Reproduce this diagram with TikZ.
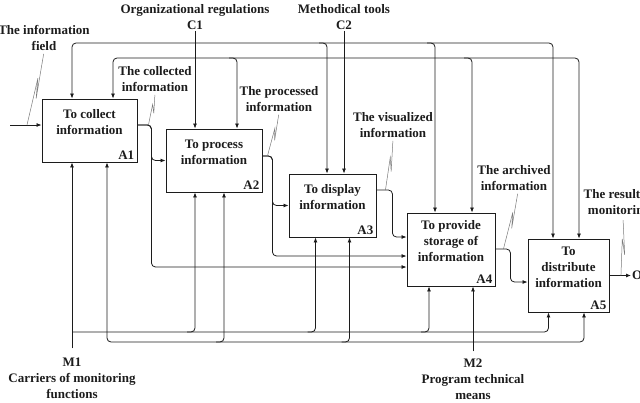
\documentclass[tikz,border=0pt]{standalone}
\usepackage{fontspec}
\setmainfont{Liberation Serif}
\usepackage{tikz}
\usetikzlibrary{arrows.meta,calc}
\definecolor{ink}{HTML}{1C1C1C}
\definecolor{zigcol}{HTML}{7A7A7A}
\newcommand{\zigline}[2]{\draw[zig] (#1) -- ($(#1)!0.64!(#2)$) -- ($(#1)!0.36!(#2)+(3,0)$) -- (#2);}

\begin{document}
\begin{tikzpicture}[
  x=1pt, y=-1pt,
  font=\fontsize{13}{16}\selectfont\bfseries,
  proc/.style={rectangle, draw=ink, line width=0.9pt, inner sep=0pt},
  ptext/.style={align=center, inner sep=0pt, text=ink},
  pid/.style={anchor=south east, inner xsep=3pt, inner ysep=3pt, text=ink},
  lbl/.style={align=center, inner sep=1pt, text=ink},
  wire/.style={line width=0.8pt, draw=ink, rounded corners=4pt},
  arrow/.style={wire, -{Latex[length=5pt,width=4pt]}},
  twoway/.style={wire, {Latex[length=5pt,width=4pt]}-{Latex[length=5pt,width=4pt]}},
  zig/.style={line width=0.5pt, draw=zigcol, shorten >=2pt}
]
\useasboundingbox (0,0) rectangle (640,402);

\node[proc, minimum width=95pt, minimum height=63pt] (a1) at (89.5,130.5) {};
\node[proc, minimum width=96pt, minimum height=63pt] (a2) at (214,160.5) {};
\node[proc, minimum width=87pt, minimum height=63pt] (a3) at (332.5,205.5) {};
\node[proc, minimum width=88pt, minimum height=73pt] (a4) at (451,249.5) {};
\node[proc, minimum width=81pt, minimum height=73pt] (a5) at (568.5,275.5) {};

\node[ptext] (a1t) at ([yshift=8pt]a1.center) {To collect\\information};
\node[ptext] (a2t) at ([yshift=8pt]a2.center) {To process\\information};
\node[ptext] (a3t) at ([yshift=8pt]a3.center) {To display\\information};
\node[ptext] (a4t) at ([yshift=8.5pt]a4.center) {To provide\\storage of\\information};
\node[ptext] (a5t) at ([yshift=8.5pt]a5.center) {To\\distribute\\information};
\node[pid] (a1id) at (a1.south east) {A1};
\node[pid] (a2id) at (a2.south east) {A2};
\node[pid] (a3id) at (a3.south east) {A3};
\node[pid] (a4id) at (a4.south east) {A4};
\node[pid] (a5id) at (a5.south east) {A5};

\node[lbl] (lfield) at (44,38) {The information\\field};
\node[lbl] (lcoll) at (155,79) {The collected\\information};
\node[lbl] (lproc) at (279,99) {The processed\\information};
\node[lbl] (lvis) at (393,125) {The visualized\\information};
\node[lbl] (larch) at (514,178) {The archived\\information};
\node[lbl] (lres) at (619,203) {The result of\\monitoring};
\node[lbl] (lc1) at (195,17) {Organizational regulations\\C1};
\node[lbl] (lc2) at (344,17) {Methodical tools\\C2};
\node[lbl] (lm1) at (72,378) {M1\\Carriers of monitoring\\functions};
\node[lbl] (lm2) at (473,379) {M2\\Program technical\\means};
\node[lbl, anchor=west] (lo1) at (631,275.5) {O1};

\coordinate (bus1) at (0,43);
\coordinate (bus2) at (0,58);
\coordinate (bus3) at (0,332);
\coordinate (bus4) at (0,342);

\coordinate (a1c1) at ([xshift=-17.5pt]a1.north);
\coordinate (a1c2) at ([xshift=23.5pt]a1.north);
\coordinate (a2c2) at ([xshift=23pt]a2.north);
\coordinate (a3c1) at ([xshift=-5.5pt]a3.north);
\coordinate (a4c1) at ([xshift=-16pt]a4.north);
\coordinate (a4c2) at ([xshift=21pt]a4.north);
\coordinate (a5c1) at ([xshift=-15.5pt]a5.north);
\coordinate (a5c2) at ([xshift=10.5pt]a5.north);

\coordinate (a1m1) at ([xshift=-17.5pt]a1.south);
\coordinate (a1m2) at ([xshift=17.5pt]a1.south);
\coordinate (a2m1) at ([xshift=-19pt]a2.south);
\coordinate (a2m2) at ([xshift=10pt]a2.south);
\coordinate (a3m1) at ([xshift=-17pt]a3.south);
\coordinate (a3m2) at ([xshift=17pt]a3.south);
\coordinate (a4m1) at ([xshift=-22pt]a4.south);
\coordinate (a4m2) at ([xshift=22pt]a4.south);
\coordinate (a5m1) at ([xshift=-20pt]a5.south);
\coordinate (a5m2) at ([xshift=15.5pt]a5.south);

\coordinate (in1) at (10,125);
\coordinate (o1) at ([yshift=5.5pt]a1.east);
\coordinate (o2) at ([yshift=4.5pt]a2.east);
\coordinate (o3) at ([yshift=15.5pt]a3.east);
\coordinate (o4) at ([yshift=0.5pt]a4.east);

\draw[arrow] (in1) -- (in1 -| a1.west);
\draw[arrow] (o1) -- ++(14,0) |- (a2.west);
\draw[arrow] (o1) -- ++(14,0) |- ([yshift=-17.5pt]a4.west);
\draw[arrow] (o2) -- ++(10,0) |- (a3.west);
\draw[arrow] (o2) -- ++(10,0) |- ([yshift=-6.5pt]a4.west);
\draw[arrow] (o3) -- ++(16,0) |- ([yshift=12.5pt]a4.west);
\draw[arrow] (o4) -- ++(15,0) |- ([yshift=-6.5pt]a5.west);
\draw[arrow] (a5.east) -- (lo1.west);

\draw[arrow] (lc1.south) -- (lc1.south |- a2.north);
\draw[arrow] (lc2.south) -- (lc2.south |- a3.north);
\draw[twoway] (a5c1) -- (a5c1 |- bus1) -- (a1c1 |- bus1) -- (a1c1);
\draw[twoway] (a5c2) -- (a5c2 |- bus2) -- (a1c2 |- bus2) -- (a1c2);
\coordinate (j31) at (a3c1 |- bus1);
\coordinate (j41) at (a4c1 |- bus1);
\coordinate (j22) at (a2c2 |- bus2);
\coordinate (j42) at (a4c2 |- bus2);
\draw[arrow] ([xshift=-8pt]j31) -| (a3c1);
\draw[arrow] ([xshift=-8pt]j41) -| (a4c1);
\draw[arrow] ([xshift=-8pt]j22) -| (a2c2);
\draw[arrow] ([xshift=-8pt]j42) -| (a4c2);

\draw[arrow] ([yshift=8pt]lm1.north -| a1m1) -- (a1m1);
\draw[arrow] (a1m1 |- bus3) -| (a5m1);
\draw[twoway] (a1m2) -- (a1m2 |- bus4) -- (a5m2 |- bus4) -- (a5m2);
\draw[arrow] ([yshift=6pt]lm2.north -| a4m2) -- (a4m2);
\coordinate (k21) at (a2m1 |- bus3);
\coordinate (k31) at (a3m1 |- bus3);
\coordinate (k41) at (a4m1 |- bus3);
\coordinate (k22) at (a2m2 |- bus4);
\coordinate (k32) at (a3m2 |- bus4);
\draw[arrow] ([xshift=-8pt]k21) -| (a2m1);
\draw[arrow] ([xshift=-8pt]k31) -| (a3m1);
\draw[arrow] ([xshift=-8pt]k41) -| (a4m1);
\draw[arrow] ([xshift=-8pt]k22) -| (a2m2);
\draw[arrow] ([xshift=-8pt]k32) -| (a3m2);

\coordinate (zfield) at ([xshift=17pt]in1);
\coordinate (zcoll) at ([xshift=11pt]o1);
\coordinate (zproc) at ([xshift=5pt]o2);
\coordinate (zvis) at ([xshift=9pt]o3);
\coordinate (zarch) at ([xshift=8pt]o4);
\coordinate (zres) at ([xshift=11.5pt]a5.east);
\zigline{zfield}{lfield.south}
\zigline{zcoll}{lcoll.south}
\zigline{zproc}{lproc.south}
\zigline{zvis}{lvis.south}
\zigline{zarch}{[xshift=4pt]larch.south}
\zigline{zres}{[xshift=4pt]lres.south}
\end{tikzpicture}
\end{document}
